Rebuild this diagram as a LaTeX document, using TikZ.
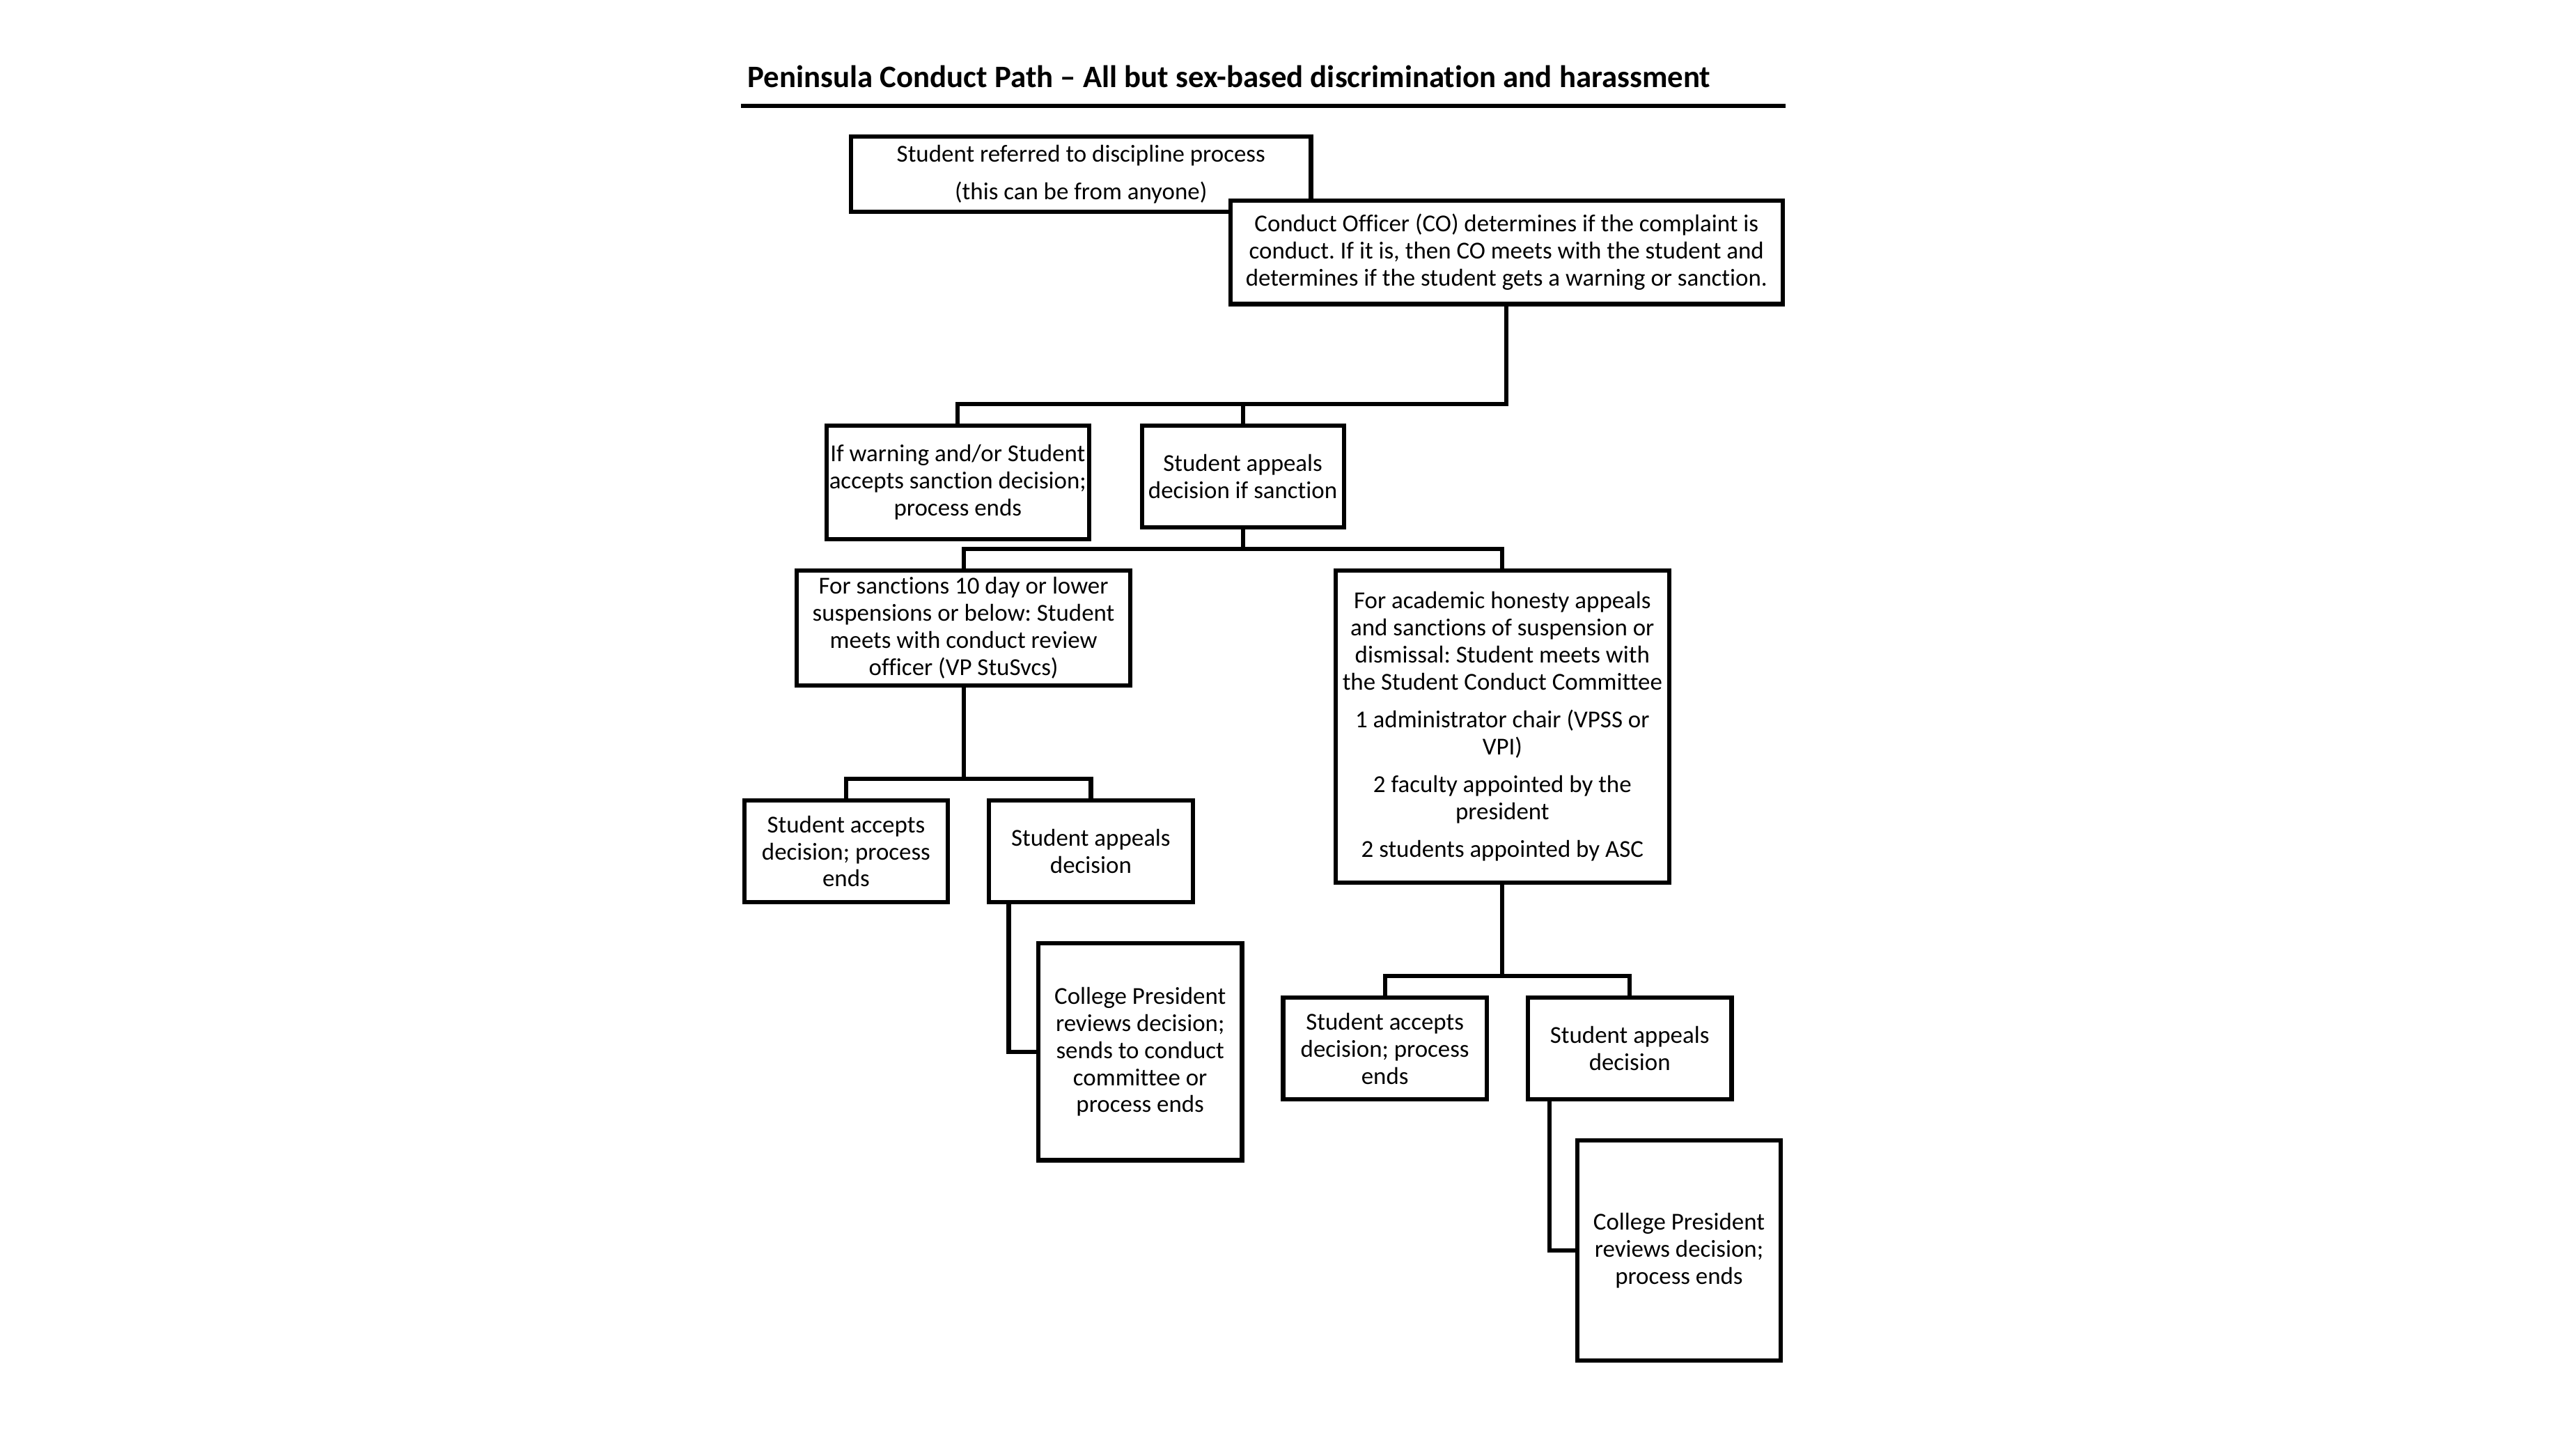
\documentclass[tikz,border=0pt]{standalone}
\usepackage{fontspec}
\setmainfont[Ligatures={TeX,NoCommon}]{Carlito}
\usetikzlibrary{positioning}
\frenchspacing

\begin{document}
\begin{tikzpicture}[
      x=1pt, y=-1pt,
      box/.style={draw=black, line width=2.6pt, fill=white, align=center,
        inner sep=0pt, outer sep=0pt, font=\fontsize{14.8}{16.5}\selectfont},
      small/.style={minimum width=124pt, minimum height=62pt},
      link/.style={draw=black, line width=2.6pt},
      heading/.style={font=\fontsize{19}{23}\selectfont\bfseries, inner sep=0pt}
      ]

  \fill[white] (0,0) rectangle (1568,881.7);
  \useasboundingbox (0,0) rectangle (1568,881.7);

  % title and rule
  \node[heading, anchor=base west] (title) at (455,53.4)
    {Peninsula Conduct Path -- All but sex-based discrimination and harassment};
  \coordinate (rulel) at (451,64.4);
  \coordinate (ruler) at (1087,64.4);
  \draw[line width=2.4pt] (rulel) -- (ruler);

  % boxes
  \node[box, minimum width=280pt, minimum height=46pt] (refer) at (658,106)
    {Student referred to discipline process\\[6.5pt](this can be from anyone)};
  \node[box, minimum width=336pt, minimum height=63pt, below right = -7pt and -49pt of refer] (co)
    {Conduct Officer (CO) determines if the complaint is\\conduct. If it is, then CO meets with the student and\\determines if the student gets a warning or sanction.};
  \node[box, minimum width=160pt, minimum height=69pt, below left = 74pt and 86pt of co] (warn)
    {If warning and/or Student\\accepts sanction decision;\\process ends};
  \node[box, minimum width=123pt, minimum height=62pt, right = 32pt of warn, yshift=3.5pt] (appeal)
    {Student appeals\\decision if sanction};
  \node[box, minimum width=203pt, minimum height=70pt, below = 19pt of warn, xshift=3.5pt] (minor)
    {For sanctions 10 day or lower\\suspensions or below: Student\\meets with conduct review\\officer (VP StuSvcs)};
  \node[box, minimum width=203pt, minimum height=190pt, below right = 26pt and -5pt of appeal] (major)
    {For academic honesty appeals\\and sanctions of suspension or\\dismissal: Student meets with\\the Student Conduct Committee\\[6.5pt]1 administrator chair (VPSS or\\VPI)\\[6.5pt]2 faculty appointed by the\\president\\[6.5pt]2 students appointed by ASC};

  \node[box, small, below = 70pt of minor, xshift=-71.5pt] (accept1)
    {Student accepts\\decision; process\\ends};
  \node[box, small, right = 25pt of accept1] (appeal1)
    {Student appeals\\decision};
  \node[box, minimum width=124pt, minimum height=132pt, below = 25pt of appeal1, xshift=30pt] (pres1)
    {College President\\reviews decision;\\sends to conduct\\committee or\\process ends};

  \node[box, small, below = 70pt of major, xshift=-71.5pt] (accept2)
    {Student accepts\\decision; process\\ends};
  \node[box, small, right = 25pt of accept2] (appeal2)
    {Student appeals\\decision};
  \node[box, minimum width=124pt, minimum height=134pt, below = 25pt of appeal2, xshift=30pt] (pres2)
    {College President\\reviews decision;\\process ends};

  % connect the boxes
  \draw[link] (co.south) |- ([yshift=13pt]warn.north) -- (warn.north);
  \draw[link] ([yshift=13pt]appeal.north) -- (appeal.north);
  \draw[link] (appeal.south) |- ([yshift=13pt]minor.north) -- (minor.north);
  \draw[link] (appeal.south) |- ([yshift=13pt]major.north) -- (major.north);
  \draw[link] (minor.south) |- ([yshift=13pt]accept1.north) -- (accept1.north);
  \draw[link] (minor.south) |- ([yshift=13pt]appeal1.north) -- (appeal1.north);
  \draw[link] (major.south) |- ([yshift=13pt]accept2.north) -- (accept2.north);
  \draw[link] (major.south) |- ([yshift=13pt]appeal2.north) -- (appeal2.north);
  \draw[link] ([xshift=12pt]appeal1.south west) |- (pres1.west);
  \draw[link] ([xshift=13pt]appeal2.south west) |- (pres2.west);

\end{tikzpicture}
\end{document}
